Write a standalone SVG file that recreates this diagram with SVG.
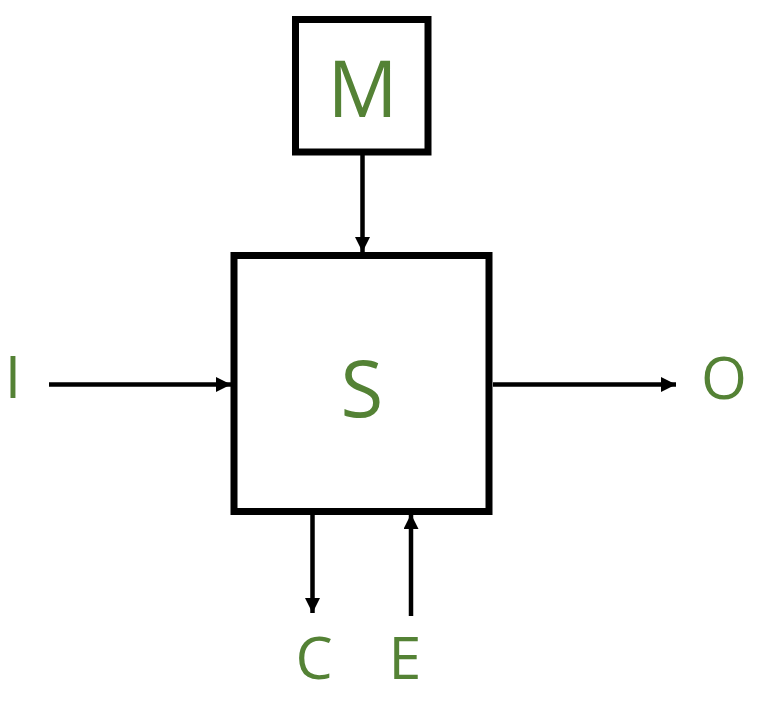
<svg xmlns="http://www.w3.org/2000/svg" width="772" height="703" viewBox="0 0 772 703">
<style>
.box{fill:#fff;stroke:#000;stroke-width:7}
.lbl{fill:#548235;font-family:"Open Sans","Noto Sans",sans-serif;text-anchor:middle}
.big{font-size:78px}
.sm{font-size:59px}
.con{stroke:#000;stroke-width:4.5;fill:none;marker-end:url(#ah)}
</style>
<defs>
<marker id="ah" viewBox="0 0 15 15" refX="15" refY="7.5" markerWidth="15" markerHeight="15" markerUnits="userSpaceOnUse" orient="auto">
<path d="M0,0 L15,7.5 L0,15 Z" fill="#000"/>
</marker>
</defs>
<g id="connectors">
<line class="con" x1="362.5" y1="155" x2="362.5" y2="252"/>
<line class="con" x1="49" y1="384.5" x2="231" y2="384.5"/>
<line class="con" x1="493" y1="384.5" x2="676" y2="384.5"/>
<line class="con" x1="312.5" y1="515" x2="312.5" y2="613"/>
<line class="con" x1="411" y1="616" x2="411" y2="514"/>
</g>
<g id="M">
<rect class="box" x="295.5" y="19.5" width="132.5" height="132.5"/>
<text class="lbl big" x="362.5" y="117">M</text>
</g>
<g id="S">
<rect class="box" x="234" y="255.5" width="255" height="256"/>
<text class="lbl big" x="362" y="417">S</text>
</g>
<g id="I"><text class="lbl sm" x="13" y="398">I</text></g>
<g id="O"><text class="lbl sm" x="724" y="399">O</text></g>
<g id="C"><text class="lbl sm" x="314" y="679">C</text></g>
<g id="E"><text class="lbl sm" x="405" y="679">E</text></g>
</svg>
